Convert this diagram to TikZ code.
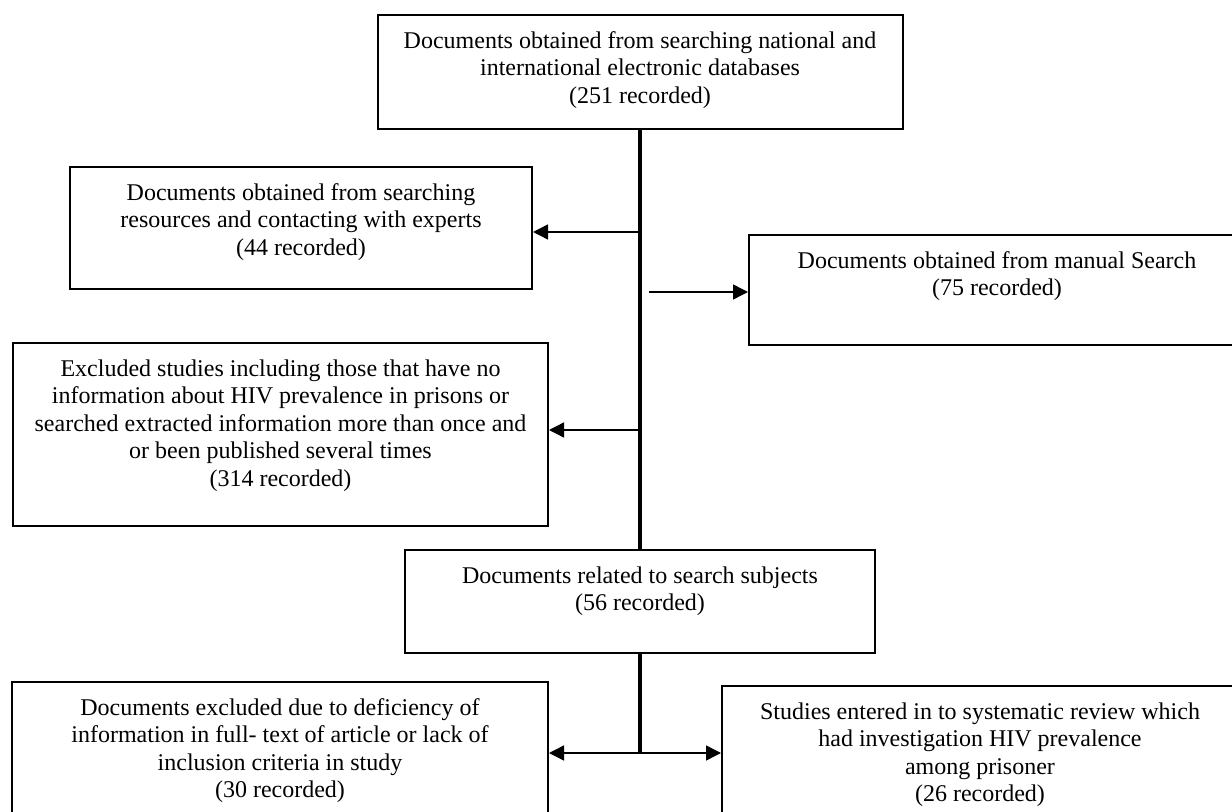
\documentclass[tikz,border=0pt]{standalone}
\usepackage{fontspec}
\setmainfont{Liberation Serif}
\usetikzlibrary{arrows.meta,positioning}

\begin{document}
\begin{tikzpicture}[x=0.5pt,y=-0.5pt,
    box/.style={draw,line width=1pt,inner sep=0pt},
    txt/.style={align=center,inner sep=0pt,font=\fontsize{12pt}{13.75pt}\selectfont},
    spine/.style={line width=1.7pt},
    arr/.style={line width=0.7pt,-{Triangle[length=7.5pt,width=7.5pt]}}]
    \useasboundingbox (0,0) rectangle (1232,812);
    \clip (0,0) rectangle (1232,812);
    % boxes
    \node[box,minimum width=262.5pt,minimum height=57pt] (db) at (640,72) {};
    \node[box,minimum width=231pt,minimum height=61pt] (res) at (301,228) {};
    \node[box,minimum width=248pt,minimum height=55pt] (man) at (997,290) {};
    \node[box,minimum width=267.5pt,minimum height=91.5pt] (exc) at (280.5,434.5) {};
    \node[box,minimum width=235pt,minimum height=51.5pt] (rel) at (640,601.5) {};
    \node[box,minimum width=268pt,minimum height=75pt] (def) at (280,757) {};
    \node[box,minimum width=258pt,minimum height=75pt] (inc) at (980,761) {};
    % texts
    \node[txt,below=8.5pt of db.north] (dbtxt) {Documents obtained from searching national and\\international electronic databases\\(251 recorded)};
    \node[txt,below=8.5pt of res.north] (restxt) {Documents obtained from searching\\resources and contacting with experts\\(44 recorded)};
    \node[txt,below=8.5pt of man.north] (mantxt) {Documents obtained from manual Search\\(75 recorded)};
    \node[txt,below=8.5pt of exc.north] (exctxt) {Excluded studies including those that have no\\information about HIV prevalence in prisons or\\searched extracted information more than once and\\or been published several times\\(314 recorded)};
    \node[txt,below=8.5pt of rel.north] (reltxt) {Documents related to search subjects\\(56 recorded)};
    \node[txt,below=8.5pt of def.north] (deftxt) {Documents excluded due to deficiency of\\information in full- text of article or lack of\\inclusion criteria in study\\(30 recorded)};
    \node[txt,below=8.5pt of inc.north] (inctxt) {Studies entered in to systematic review which\\had investigation HIV prevalence\\among prisoner\\(26 recorded)};
    % connectors
    \coordinate (r1) at (640,232);
    \coordinate (m1) at (649,292);
    \coordinate (e1) at (640,430);
    \coordinate (split) at (640,753);
    \draw[spine] (db.south) -- (rel.north);
    \draw[spine] (rel.south) -- (split);
    \draw[arr] (r1) -- (r1 -| res.east);
    \draw[arr] (m1) -- (m1 -| man.west);
    \draw[arr] (e1) -- (e1 -| exc.east);
    \draw[arr] (split) -- (split -| def.east);
    \draw[arr] (split) -- (split -| inc.west);
\end{tikzpicture}
\end{document}
